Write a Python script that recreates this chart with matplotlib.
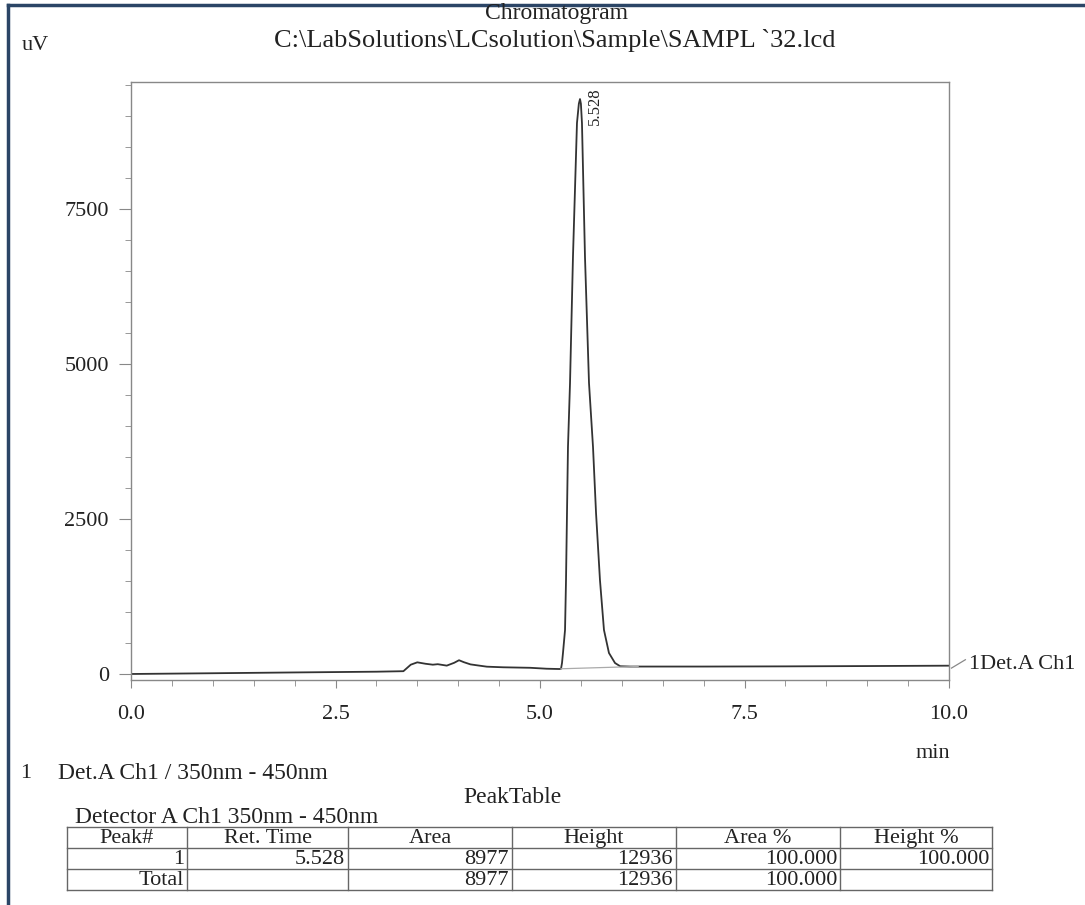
import matplotlib
matplotlib.use("Agg")
import matplotlib.pyplot as plt
from matplotlib.lines import Line2D
from matplotlib.ticker import MultipleLocator

plt.rcParams['font.family'] = ['Liberation Serif', 'DejaVu Serif']

# chromatogram trace (min, uV)
tempo = [0.0, 1.0, 2.0, 3.0, 3.33, 3.42, 3.50, 3.60, 3.69, 3.75, 3.86, 3.95,
         4.01, 4.07, 4.15, 4.23, 4.35, 4.55, 4.88, 5.08, 5.24, 5.257, 5.269,
         5.281, 5.306, 5.318, 5.330, 5.342, 5.367, 5.403, 5.452, 5.475, 5.489,
         5.500, 5.513, 5.550, 5.599, 5.648, 5.685, 5.733, 5.782, 5.843, 5.917,
         5.98, 6.10, 7.0, 8.0, 9.0, 10.0]
sinal = [0, 12, 25, 37, 45, 150, 188, 165, 150, 158, 135, 180,
         222, 190, 155, 140, 118, 108, 100, 85, 80, 85, 177,
         339, 710, 1516, 2597, 3662, 4694, 6726, 8888, 9200, 9275,
         9200, 8888, 6726, 4694, 3662, 2597, 1516, 710, 339, 177,
         125, 120, 120, 123, 128, 134]
linha_base_t = [5.257, 6.2]
linha_base_v = [84, 121]
pico_tr = 5.528

titulo1 = "Chromatogram"
titulo2 = "C:\\LabSolutions\\LCsolution\\Sample\\SAMPL `32.lcd"

cabecalho = ["Peak#", "Ret. Time", "Area", "Height", "Area %", "Height %"]
linha1 = ["1", "5.528", "8977", "12936", "100.000", "100.000"]
linha_total = ["Total", "", "8977", "12936", "100.000", ""]

W, H = 1085, 905
FS = 16
COR = '#222222'


def px(x, y):
    return x / W, 1 - y / H


fig = plt.figure(figsize=(10.85, 9.05), dpi=100)
ax = fig.add_axes([131 / W, 1 - 680 / H, (949 - 131) / W, (680 - 82) / H])

ax.plot(tempo, sinal, color='#333333', lw=1.3)
ax.plot(linha_base_t, linha_base_v, color='#aaaaaa', lw=0.9)
ax.set_xlim(0, 10)
ax.set_ylim(-97, 9550)

ax.xaxis.set_major_locator(MultipleLocator(2.5))
ax.xaxis.set_minor_locator(MultipleLocator(0.5))
ax.yaxis.set_major_locator(MultipleLocator(2500))
ax.yaxis.set_minor_locator(MultipleLocator(500))
ax.xaxis.set_major_formatter(plt.FuncFormatter(lambda v, p: "%.1f" % v))
ax.yaxis.set_major_formatter(plt.FuncFormatter(lambda v, p: "%d" % v))
ax.tick_params(axis='both', which='both', direction='out', color='#888888',
               labelsize=FS, labelcolor=COR)
ax.tick_params(axis='x', which='major', length=6, pad=12)
ax.tick_params(axis='x', which='minor', length=4)
ax.tick_params(axis='y', which='major', length=9, pad=7)
ax.tick_params(axis='y', which='minor', length=4)
for s in ax.spines.values():
    s.set_color('#888888')
    s.set_linewidth(1.0)

ax.text(pico_tr + 0.14, 8850, "%.3f" % pico_tr, rotation=90, ha='center',
        va='bottom', fontsize=12, color=COR)

# rotulo do canal fora do grafico
ax.plot([10.03, 10.2], [95, 230], color='#888888', lw=0.9, clip_on=False)
ax.text(10.24, 150, "1Det.A Ch1", fontsize=FS, va='center', ha='left',
        color=COR, clip_on=False)

fig.text(*px(556, 13), titulo1, ha='center', va='center', fontsize=17, color=COR)
fig.text(*px(555, 40), titulo2, ha='center', va='center', fontsize=19, color=COR)
fig.text(*px(22, 45), "uV", ha='left', va='center', fontsize=FS, color=COR)
fig.text(*px(950, 753), "min", ha='right', va='center', fontsize=FS, color=COR)

fig.text(*px(20, 773), "1", ha='left', va='center', fontsize=FS, color=COR)
fig.text(*px(58, 773), "Det.A Ch1 / 350nm - 450nm", ha='left', va='center',
         fontsize=17, color=COR)
fig.text(*px(512, 797), "PeakTable", ha='center', va='center', fontsize=17, color=COR)
fig.text(*px(75, 817), "Detector A Ch1 350nm - 450nm", ha='left', va='center',
         fontsize=17, color=COR)

# tabela de picos
colunas = [67, 187, 348, 512, 676, 840, 992]
linhas_y = [827, 848, 869, 890]
for y in linhas_y:
    fig.add_artist(Line2D([colunas[0] / W, colunas[-1] / W], [1 - y / H, 1 - y / H],
                          color='#666666', lw=1.0))
for x in colunas:
    fig.add_artist(Line2D([x / W, x / W], [1 - linhas_y[0] / H, 1 - linhas_y[-1] / H],
                          color='#666666', lw=1.0))
for i, txt in enumerate(cabecalho):
    xc = (colunas[i] + colunas[i + 1]) / 2
    fig.text(*px(xc, 838), txt, ha='center', va='center', fontsize=FS, color=COR)
for yl, row in [(859, linha1), (880, linha_total)]:
    for i, txt in enumerate(row):
        fig.text(*px(colunas[i + 1] - 3, yl), txt, ha='right', va='center',
                 fontsize=FS, color=COR)

# moldura escura da digitalizacao
fig.add_artist(Line2D([8 / W, 8 / W], [0, 1 - 5 / H], color='#2b4566', lw=2.5))
fig.add_artist(Line2D([8 / W, 1], [1 - 5 / H, 1 - 5 / H], color='#2b4566', lw=2.5))

fig.savefig("out.png", dpi=100)
